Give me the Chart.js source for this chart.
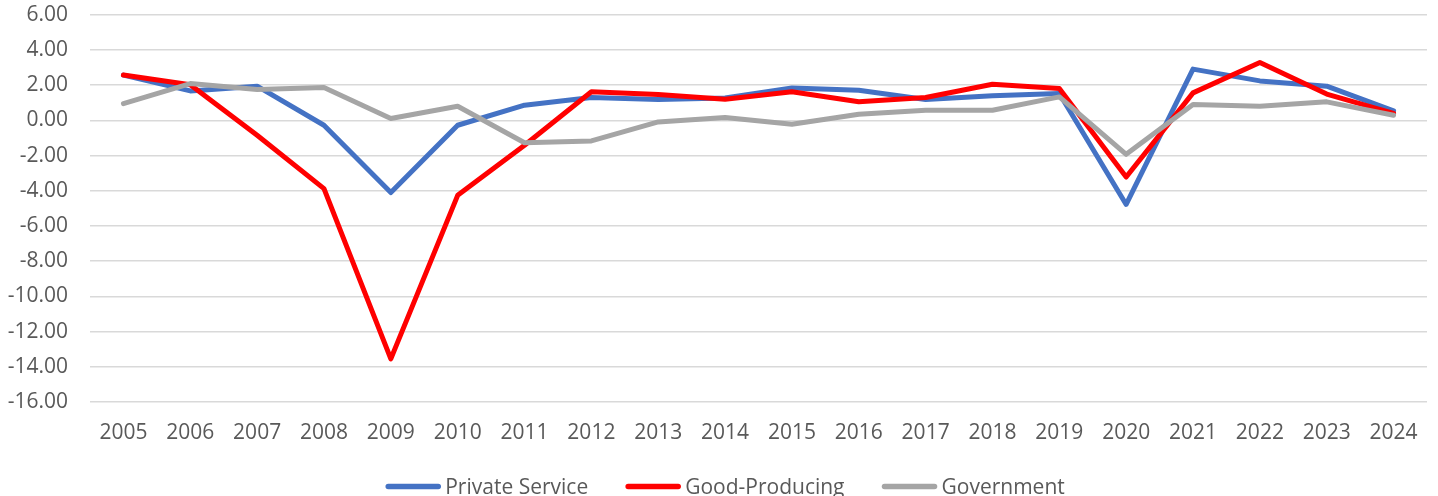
<!DOCTYPE html>
<html>
<head>
<meta charset="utf-8">
<script src="https://cdn.jsdelivr.net/npm/chart.js@4.4.1/dist/chart.umd.min.js"></script>
<style>
html,body{margin:0;padding:0;background:#fff;overflow:hidden;}
#wrap{position:relative;width:1438px;height:496px;}
</style>
</head>
<body>
<div id="wrap"><canvas id="c"></canvas></div>
<script>
const years = ['2005','2006','2007','2008','2009','2010','2011','2012','2013','2014','2015','2016','2017','2018','2019','2020','2021','2022','2023','2024'];
const privateService = [2.57,1.67,1.94,-0.28,-4.10,-0.28,0.86,1.30,1.18,1.27,1.84,1.71,1.18,1.39,1.52,-4.78,2.91,2.24,1.94,0.54];
const goodProducing = [2.57,2.02,-0.85,-3.88,-13.55,-4.26,-1.42,1.62,1.47,1.20,1.62,1.05,1.30,2.05,1.81,-3.22,1.56,3.29,1.49,0.39];
const government = [0.95,2.09,1.75,1.87,0.10,0.80,-1.27,-1.17,-0.09,0.16,-0.22,0.35,0.57,0.57,1.33,-1.93,0.90,0.80,1.05,0.29];
const yMin = -16, yMax = 6, yStep = 2;

const txt = '#595959';
const fontFamily = "'Open Sans', 'Liberation Sans', sans-serif";
const font = {family: fontFamily, size: 21};

// Custom bottom legend (drawn as text on the canvas)
const bottomLegend = {
  id: 'bottomLegend',
  afterDraw(chart) {
    const ctx = chart.ctx;
    const sw = 56, gapText = 4, gapItem = 37, centerX = 725, cy = 486.5;
    ctx.save();
    ctx.font = `21px ${fontFamily}`;
    const items = chart.data.datasets.map(d => ({label: d.label, color: d.borderColor, w: ctx.measureText(d.label).width}));
    const total = items.reduce((a, it) => a + sw + gapText + it.w, 0) + gapItem * (items.length - 1);
    let x = centerX - total / 2;
    ctx.textBaseline = 'middle';
    ctx.textAlign = 'left';
    items.forEach(it => {
      ctx.strokeStyle = it.color;
      ctx.lineWidth = 5.5;
      ctx.lineCap = 'round';
      ctx.beginPath();
      ctx.moveTo(x + 3, cy);
      ctx.lineTo(x + sw - 3, cy);
      ctx.stroke();
      ctx.fillStyle = txt;
      ctx.fillText(it.label, x + sw + gapText, cy + 1.5);
      x += sw + gapText + it.w + gapItem;
    });
    ctx.restore();
  }
};

new Chart(document.getElementById('c'), {
  type: 'line',
  data: {
    labels: years,
    datasets: [
      {label: 'Private Service', data: privateService, borderColor: '#4472C4', backgroundColor: '#4472C4', order: 2},
      {label: 'Good-Producing', data: goodProducing, borderColor: '#FF0000', backgroundColor: '#FF0000', order: 1},
      {label: 'Government', data: government, borderColor: '#A5A5A5', backgroundColor: '#A5A5A5', order: 0}
    ]
  },
  plugins: [bottomLegend],
  options: {
    responsive: true,
    maintainAspectRatio: false,
    animation: false,
    layout: {padding: {left: 0, right: 11, top: 14.7, bottom: 54}},
    elements: {
      line: {borderWidth: 5, tension: 0, borderCapStyle: 'round', borderJoinStyle: 'round', fill: false},
      point: {radius: 0, hoverRadius: 0}
    },
    plugins: {
      tooltip: {enabled: false},
      legend: {display: false}
    },
    scales: {
      x: {
        offset: true,
        grid: {display: false, drawTicks: false},
        border: {display: false},
        ticks: {color: txt, font: font, padding: 18.5, maxRotation: 0, autoSkip: false},
        afterFit: (s) => { s.height = 40; s.paddingLeft = 0; s.paddingRight = 0; }
      },
      y: {
        min: yMin, max: yMax,
        grid: {color: '#D9D9D9', lineWidth: 1.5, drawTicks: false},
        border: {display: false},
        ticks: {stepSize: yStep, color: txt, font: font, padding: 22, callback: (v) => v.toFixed(2)},
        afterFit: (s) => { s.width = 90; s.paddingTop = 0; s.paddingBottom = 0; }
      }
    }
  }
});
</script>
</body>
</html>
